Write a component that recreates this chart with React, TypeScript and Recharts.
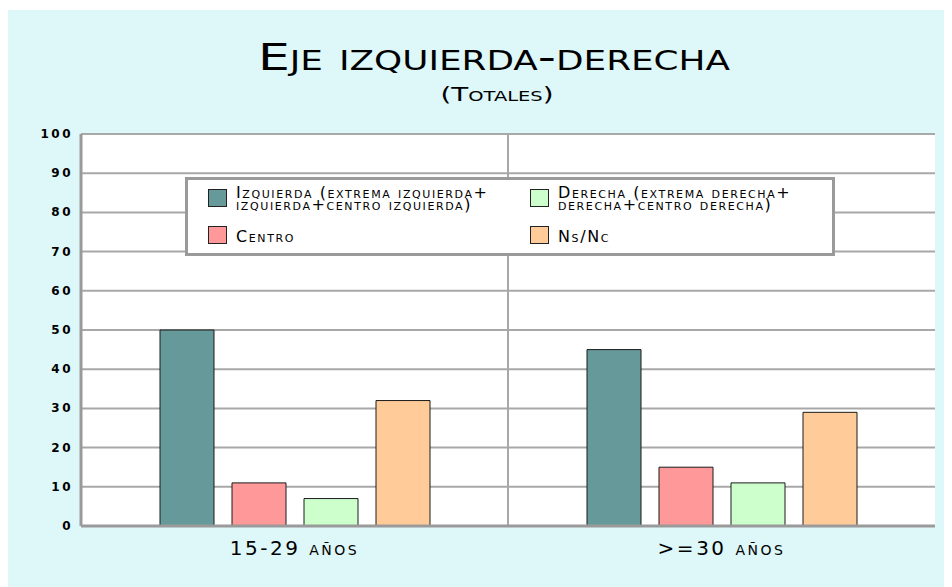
import React from 'react';
import { BarChart, Bar, XAxis, YAxis, CartesianGrid, Legend } from 'recharts';

const categories = ['15-29 años', '>=30 años'];
const izquierda = [50, 45];
const centro = [11, 15];
const derecha = [7, 11];
const nsnc = [32, 29];
const yTicks = [0, 10, 20, 30, 40, 50, 60, 70, 80, 90, 100];

const seriesKeys = ['izq', 'cen', 'der', 'ns'];
const seriesNames: Record<string, string> = {
  izq: 'Izquierda (extrema izquierda+\nizquierda+centro izquierda)',
  cen: 'Centro',
  der: 'Derecha (extrema derecha+\nderecha+centro derecha)',
  ns: 'Ns/Nc',
};
const colors: Record<string, string> = { izq: '#669999', cen: '#FF9999', der: '#CCFFCC', ns: '#FFCC99' };

const data = categories.map((c, i) => ({
  cat: c,
  izq: izquierda[i],
  cen: centro[i],
  der: derecha[i],
  ns: nsnc[i],
}));

const FONT = '"DejaVu Sans", sans-serif';

const XTick = (props: any) => {
  const { x, y, payload } = props;
  return (
    <text x={x} y={y + 21} textAnchor="middle" fill="#000"
      style={{ fontVariant: 'small-caps', fontSize: 20, fontFamily: FONT, letterSpacing: 2.5 }}>
      {payload.value}
    </text>
  );
};

const YTick = (props: any) => {
  const { x, y, payload } = props;
  return (
    <text x={x} y={y + 4} textAnchor="end" fill="#000"
      style={{ fontSize: 12, fontWeight: 'bold', fontFamily: FONT, letterSpacing: 2.5 }}>
      {payload.value}
    </text>
  );
};

const LegendContent = (props: any) => {
  const raw = props.payload || [];
  const items = seriesKeys
    .map((k) => raw.find((p: any) => p.dataKey === k))
    .filter(Boolean);
  return (
    <div style={{
      width: 650, height: 79, boxSizing: 'border-box', border: '3px solid #9a9a9a', background: '#fff',
      display: 'grid', gridTemplateColumns: '322px 300px', gridTemplateRows: '37px 37px',
      gridAutoFlow: 'column', padding: '7px 0 0 20px', fontFamily: FONT,
    }}>
      {items.map((it: any) => (
        <div key={it.dataKey} style={{ display: 'flex', alignItems: 'flex-start' }}>
          <div style={{ width: 17, height: 16, background: it.color, border: '1px solid #222', flex: 'none', marginTop: 2 }} />
          <div style={{
            marginLeft: 9, whiteSpace: 'pre-line', fontVariant: 'small-caps', fontSize: 16, letterSpacing: 1.6,
            lineHeight: '12px', color: '#000', paddingTop: String(it.value).includes('\n') ? 0 : 7,
          }}>{it.value}</div>
        </div>
      ))}
    </div>
  );
};

export default function App() {
  return (
    <div style={{ position: 'relative', width: 944, height: 577, marginTop: 2, background: '#DEF7F8' }}>
      <svg width={944} height={110} style={{ position: 'absolute', left: 0, top: 0 }}>
        <text x={486} y={60} textAnchor="middle" textLength={472} lengthAdjust="spacingAndGlyphs"
          style={{ fontVariant: 'small-caps', fontSize: 38, fontFamily: FONT }} fill="#000">
          Eje izquierda-derecha
        </text>
        <text x={489} y={91} textAnchor="middle" textLength={113} lengthAdjust="spacingAndGlyphs"
          style={{ fontVariant: 'small-caps', fontSize: 20, fontFamily: FONT }} fill="#000">
          (Totales)
        </text>
      </svg>
      <BarChart width={944} height={577} data={data}
        margin={{ top: 124, right: 17, bottom: 31, left: 0 }}
        barSize={54} barGap={18}>
        <CartesianGrid stroke="#a8a8a8" strokeWidth={2} fill="#fff"
          verticalCoordinatesGenerator={({ offset }: any) => [offset.left + offset.width / 2]} />
        <XAxis dataKey="cat" height={30} tickLine={false} axisLine={{ stroke: '#9a9a9a', strokeWidth: 3 }} tick={<XTick />} interval={0} />
        <YAxis width={73} domain={[0, 100]} ticks={yTicks} tickLine={false}
          axisLine={{ stroke: '#9a9a9a', strokeWidth: 3 }} tick={<YTick />} interval={0} />
        <YAxis yAxisId="r" orientation="right" width={0} domain={[0, 100]} tick={false} tickLine={false}
          axisLine={{ stroke: '#9a9a9a', strokeWidth: 3 }} />
        <Legend layout="horizontal" verticalAlign="middle" align="center"
          wrapperStyle={{ top: 167, left: 177, width: 650, height: 79 }} content={<LegendContent />} />
        {seriesKeys.map((k) => (
          <Bar key={k} dataKey={k} name={seriesNames[k]} fill={colors[k]} stroke="#1a1a1a" strokeWidth={1} isAnimationActive={false} />
        ))}
      </BarChart>
    </div>
  );
}
